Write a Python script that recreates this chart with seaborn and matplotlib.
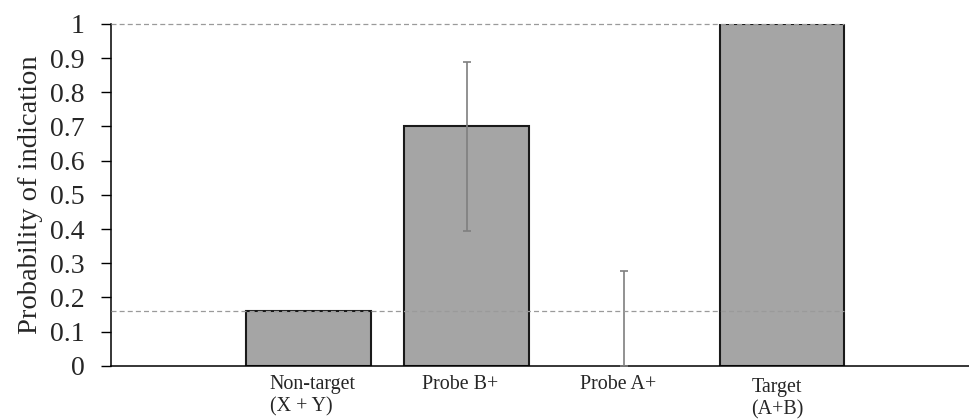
import numpy as np
import pandas as pd
import matplotlib
matplotlib.use("Agg")
import matplotlib.pyplot as plt
import matplotlib.transforms as mtransforms
import seaborn as sns

# Probability of indication per trial type
categories = ["Non-target\n(X + Y)", "Probe B+", "Probe A+", "Target\n(A+B)"]
probability = [0.16, 0.70, 0.0, 1.0]
# Confidence interval bounds (NaN = no interval shown)
ci_low = [np.nan, 0.395, 0.0, np.nan]
ci_high = [np.nan, 0.89, 0.277, np.nan]
# Reference levels: chance (non-target rate) and ceiling
reference_levels = [0.16, 1.0]
y_ticks = [0, 0.1, 0.2, 0.3, 0.4, 0.5, 0.6, 0.7, 0.8, 0.9, 1]
y_tick_labels = ["0", "0.1", "0.2", "0.3", "0.4", "0.5", "0.6", "0.7", "0.8", "0.9", "1"]

sns.set_theme(style="white")
plt.rcParams["font.family"] = ["Liberation Serif", "DejaVu Serif"]

df = pd.DataFrame({"condition": categories, "p": probability})

fig = plt.figure(figsize=(9.69, 4.2), dpi=100)
ax = fig.add_axes([0.1146, 0.1293, 0.8854, 0.8136])

bar_width = 0.79
sns.barplot(data=df, x="condition", y="p", order=categories, color="#a5a5a5",
            saturation=1, edgecolor="#1a1a1a", linewidth=1.5, width=bar_width,
            errorbar=None, ax=ax, zorder=2)
# empty bars get no outline
for patch in ax.patches:
    if patch.get_height() == 0:
        patch.set_linewidth(0)

# asymmetric error bars
pos = np.arange(len(categories))
p = np.array(probability)
lo = np.array(ci_low)
hi = np.array(ci_high)
mask = ~np.isnan(lo)
ax.errorbar(pos[mask], p[mask], yerr=[p[mask] - lo[mask], hi[mask] - p[mask]],
            fmt="none", ecolor="#7f7f7f", elinewidth=1.2, capsize=3,
            capthick=1.2, zorder=4)

x_left = -1.253
ax.set_xlim(x_left, 4.184)
ax.set_ylim(0, 1)

# dashed reference lines running up to the right edge of the last bar
x_end = pos[-1] + bar_width / 2
for lvl in reference_levels:
    ax.plot([x_left, x_end], [lvl, lvl], color="#9a9a9a", lw=0.9,
            ls=(0, (4, 2.5)), zorder=5, clip_on=False)

ax.set_yticks(y_ticks)
ax.set_yticklabels(y_tick_labels, fontsize=20)
ax.tick_params(axis="y", direction="out", length=7, width=1, color="black", pad=12,
               left=True)
ax.tick_params(axis="x", length=0, pad=7)
ax.set_xticks(pos)
ax.set_xticklabels(categories, fontsize=14.4, linespacing=1.22)

# per-label nudges (pixels)
nudges = [(4, 0), (-6, 0), (-6, 0), (-5, -3)]
aligns = ["left", "center", "center", "center"]
for lab, (dx, dy), al in zip(ax.get_xticklabels(), nudges, aligns):
    lab.set_multialignment(al)
    lab.set_transform(lab.get_transform() +
                      mtransforms.ScaledTranslation(dx / 100, dy / 100, fig.dpi_scale_trans))

ax.set_xlabel("")
ax.set_ylabel("Probability of indication", fontsize=20.5, labelpad=5)

for side in ["top", "right"]:
    ax.spines[side].set_visible(False)
for side in ["left", "bottom"]:
    ax.spines[side].set_color("black")
    ax.spines[side].set_linewidth(1.1)

fig.savefig("out.png", dpi=100, facecolor="white")
